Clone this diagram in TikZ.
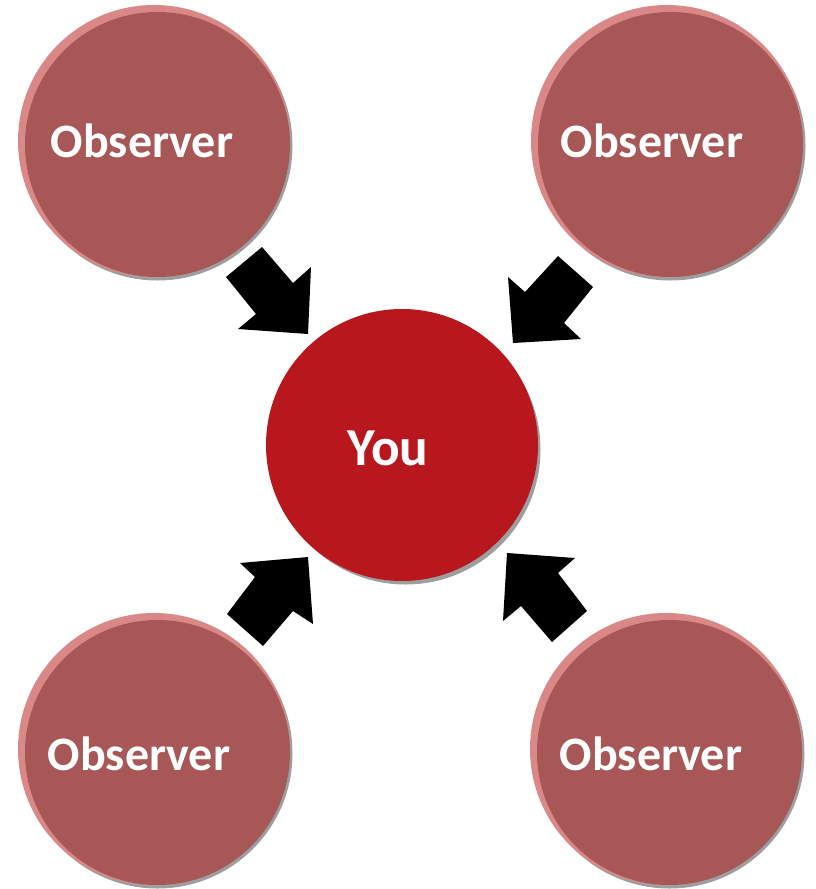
\documentclass[tikz,border=0pt]{standalone}
\usepackage{fontspec}
\setmainfont{Carlito}
\definecolor{obsfill}{HTML}{A85757}
\definecolor{obsrim}{HTML}{DA8787}
\definecolor{shadowgray}{HTML}{9E9E9E}
\definecolor{youfill}{HTML}{B8171D}
\begin{document}
\begin{tikzpicture}[x=0.75pt,y=-0.75pt,
  lbl/.style={text=white,font=\fontsize{36}{42}\selectfont\bfseries,inner sep=0pt},
  biglbl/.style={text=white,font=\fontsize{40}{46}\selectfont\bfseries,inner sep=0pt},
  blk/.style={fill=black,draw=none}]
\useasboundingbox (0,0) rectangle (815,889);
% observer circles: shadow, rim, body
\foreach \cx/\cy/\nm in {154/141/otl, 667/141/otr, 154/749/obl, 666/749/obr}{
  \fill[shadowgray] (\cx+3.5,\cy+4.5) circle[radius=135];
  \fill[obsrim] (\cx,\cy) circle[radius=136];
  \fill[obsfill] (\cx+3.5,\cy+3.5) circle[radius=132.5];
  \coordinate (\nm) at (\cx,\cy);
}
% center
\fill[shadowgray] (405.5,449.5) circle[radius=135];
\fill[youfill] (402,445) circle[radius=136];
\coordinate (you) at (402,445);
\node[biglbl] (tyou) at (388,448) {You};
\node[lbl] (t1) at (142,141) {Observer};
\node[lbl] (t2) at (652,141) {Observer};
\node[lbl] (t3) at (139,754) {Observer};
\node[lbl] (t4) at (651,754) {Observer};
% block arrows
\fill[blk] (262,247) -- (293,283) -- (311,267) -- (308,334) -- (238,329) -- (256,314) -- (226,277) -- cycle;
\fill[blk] (593,287) -- (564,323) -- (581,339) -- (513,343) -- (508,277) -- (525,292) -- (558,256) -- cycle;
\fill[blk] (227,614) -- (255,577) -- (240,563) -- (308,557) -- (313,624) -- (293,611) -- (263,646) -- cycle;
\fill[blk] (587,611) -- (558,573) -- (575,558) -- (507,553) -- (503,621) -- (521,606) -- (552,642) -- cycle;
\end{tikzpicture}
\end{document}
